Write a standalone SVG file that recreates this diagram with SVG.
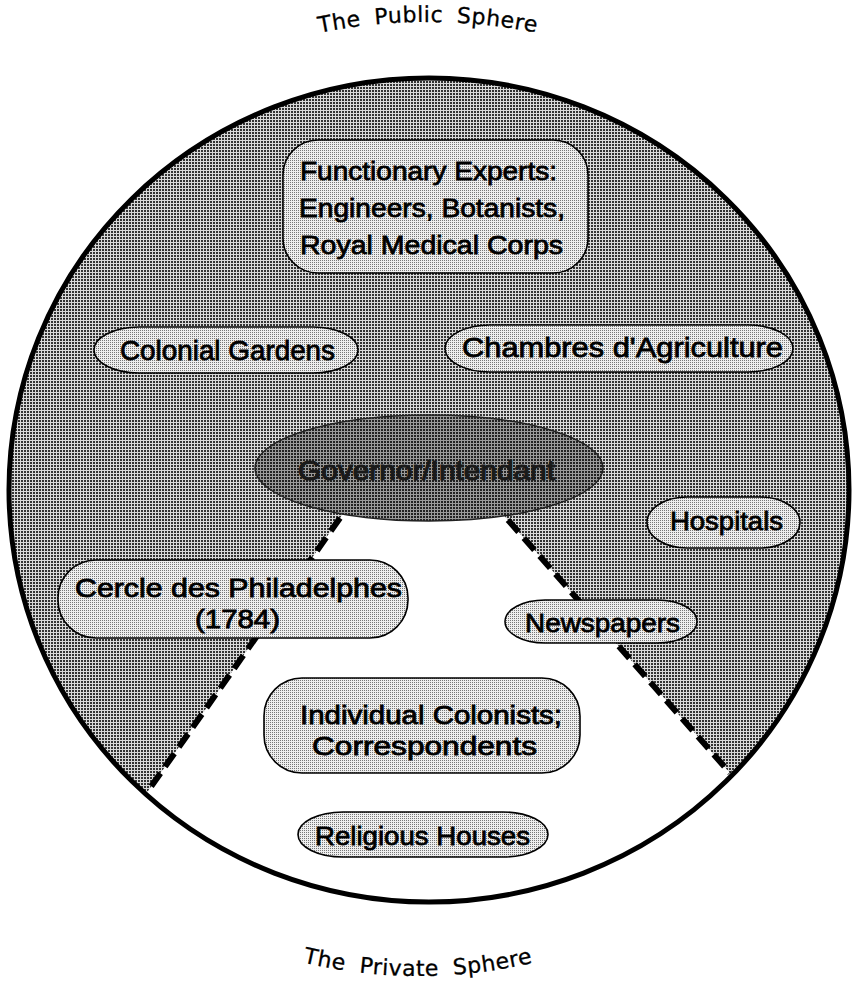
<svg xmlns="http://www.w3.org/2000/svg" width="856" height="999" viewBox="0 0 856 999">
<defs>
<pattern id="darkDots" width="3" height="3" patternUnits="userSpaceOnUse">
<rect width="3" height="3" fill="#d9d9d9"/>
<rect width="2" height="2" fill="#333"/>
</pattern>
<pattern id="lightDots" width="2" height="2" patternUnits="userSpaceOnUse">
<rect width="2" height="2" fill="#eeeeee"/>
<rect width="1" height="1" fill="#777"/>
</pattern>
<pattern id="govDots" width="3" height="3" patternUnits="userSpaceOnUse">
<rect width="3" height="3" fill="#9a9a9a"/>
<rect width="2" height="2" fill="#222"/>
</pattern>
<clipPath id="circleClip">
<ellipse cx="429" cy="490" rx="420" ry="412"/>
</clipPath>
<path id="topArc" d="M128,111 A550,550 0 0,1 728,111"/>
<path id="botArc" d="M118,876 A500,500 0 0,0 718,876"/>
</defs>
<style>
.node{fill:url(#lightDots);stroke:#000;stroke-width:1.6}
.t{font-family:"Liberation Sans",Arial,sans-serif;font-size:26px;text-anchor:middle;fill:#000;stroke:#000;stroke-width:0.8}
.sphere{font-family:"DejaVu Sans",Verdana,sans-serif;font-size:22px;fill:#000;stroke:#000;stroke-width:0.3;letter-spacing:0.5px}
.dash{stroke:#000;stroke-width:6;stroke-dasharray:16 8;fill:none}
</style>

<g id="background">
<ellipse cx="429" cy="490" rx="420" ry="412" fill="url(#darkDots)"/>
<polygon points="352.7,500 1,1000 929,1000 490.5,500" fill="#fff" clip-path="url(#circleClip)"/>
<ellipse cx="429" cy="490" rx="420" ry="412" fill="none" stroke="#000" stroke-width="5"/>
</g>

<g id="labels">
<text class="sphere" style="word-spacing:6px"><textPath href="#topArc" startOffset="50%" text-anchor="middle">The Public Sphere</textPath></text>
<text class="sphere" style="word-spacing:7px"><textPath href="#botArc" startOffset="50%" text-anchor="middle">The Private Sphere</textPath></text>
</g>

<g id="connectors">
<line class="dash" x1="340" y1="518" x2="150" y2="788"/>
<line class="dash" x1="508" y1="520" x2="730" y2="773"/>
</g>

<g id="functionary">
<rect class="node" x="283" y="140" width="305" height="133" rx="35"/>
<text class="t" x="428.5" y="180" textLength="257" lengthAdjust="spacingAndGlyphs">Functionary Experts:</text>
<text class="t" x="432" y="217" textLength="266" lengthAdjust="spacingAndGlyphs">Engineers, Botanists,</text>
<text class="t" x="431.5" y="254" textLength="263" lengthAdjust="spacingAndGlyphs">Royal Medical Corps</text>
</g>

<g id="colonial">
<rect class="node" x="94" y="327" width="264" height="46" rx="45" ry="23"/>
<text class="t" x="227.5" y="360" style="font-size:28px" textLength="215" lengthAdjust="spacingAndGlyphs">Colonial Gardens</text>
</g>

<g id="chambres">
<rect class="node" x="445" y="325" width="348" height="47" rx="45" ry="23.5"/>
<text class="t" x="622.5" y="357" style="font-size:28px" textLength="321" lengthAdjust="spacingAndGlyphs">Chambres d'Agriculture</text>
</g>

<g id="hospitals">
<rect class="node" x="647" y="497" width="153" height="51" rx="40" ry="25.5"/>
<text class="t" x="726.5" y="530" textLength="113" lengthAdjust="spacingAndGlyphs">Hospitals</text>
</g>

<g id="cercle">
<rect class="node" x="58" y="560" width="350" height="78" rx="38"/>
<text class="t" x="238.5" y="597" style="font-size:25px" textLength="327" lengthAdjust="spacingAndGlyphs">Cercle des Philadelphes</text>
<text class="t" x="237.5" y="628" style="font-size:25px" textLength="85" lengthAdjust="spacingAndGlyphs">(1784)</text>
</g>

<g id="newspapers">
<rect class="node" x="505" y="600" width="192" height="43" rx="40" ry="21.5"/>
<text class="t" x="602.5" y="632" textLength="155" lengthAdjust="spacingAndGlyphs">Newspapers</text>
</g>

<g id="individual">
<rect class="node" x="264" y="678" width="316" height="95" rx="38"/>
<text class="t" x="431" y="724" style="font-size:25px" textLength="262" lengthAdjust="spacingAndGlyphs">Individual Colonists;</text>
<text class="t" x="424.5" y="755" style="font-size:25px" textLength="225" lengthAdjust="spacingAndGlyphs">Correspondents</text>
</g>

<g id="religious">
<rect class="node" x="298" y="812" width="250" height="45" rx="45" ry="22.5"/>
<text class="t" x="422.5" y="845" textLength="215" lengthAdjust="spacingAndGlyphs">Religious Houses</text>
</g>

<g id="governor">
<ellipse cx="429" cy="468" rx="174" ry="53" fill="url(#govDots)" stroke="#222" stroke-width="1.5"/>
<text class="t" x="426.5" y="480" style="font-size:28px;fill:#1a1a1a;stroke:#1a1a1a;stroke-width:1.2" textLength="257" lengthAdjust="spacingAndGlyphs">Governor/Intendant</text>
</g>
</svg>
